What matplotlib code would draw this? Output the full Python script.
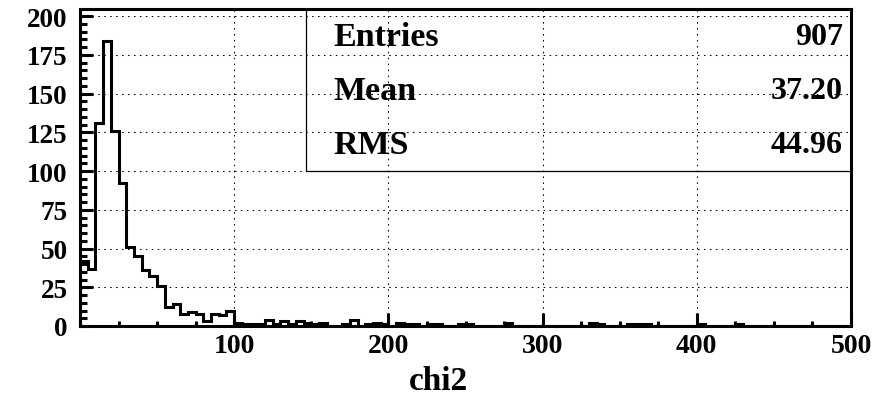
import numpy as np
import matplotlib.pyplot as plt
from matplotlib.ticker import MultipleLocator, FixedLocator

# chi2 distribution, 100 bins of width 5 from 0 to 500
bin_edges = np.arange(0, 505, 5)
counts = [
    42, 37, 131, 184, 126, 92, 51, 45, 36, 32,
    26, 12, 14, 8, 9, 8, 3, 8, 7, 10,
    2, 1, 1, 1, 4, 1, 3, 1, 3, 2,
    1, 2, 0, 0, 1, 4, 0, 1, 2, 1,
    0, 2, 1, 1, 0, 1, 1, 0, 0, 1,
    1, 0, 0, 0, 0, 2, 0, 0, 0, 0,
    0, 0, 0, 0, 0, 0, 2, 1, 0, 0,
    0, 1, 1, 1, 0, 0, 0, 0, 0, 0,
    1, 0, 0, 0, 0, 1, 0, 0, 0, 0,
    0, 0, 0, 0, 0, 0, 0, 0, 0, 0,
]
x_ticks = [100, 200, 300, 400, 500]
y_ticks = [0, 25, 50, 75, 100, 125, 150, 175, 200]
stat_names = ["Entries", "Mean", "RMS"]
stat_values = ["907", "37.20", "44.96"]

font = {"family": "Liberation Serif", "weight": "bold"}
W, H = 888, 410
fig = plt.figure(figsize=(W / 100, H / 100), dpi=100)
ax = fig.add_axes([80 / W, 1 - 327 / H, (851 - 80) / W, (327 - 10) / H])

ax.stairs(counts, bin_edges, color="black", linewidth=2.2, baseline=0, zorder=3)

ax.set_xlim(0, 500)
ax.set_ylim(0, 204.6)

ax.xaxis.set_major_locator(FixedLocator(x_ticks))
ax.xaxis.set_minor_locator(MultipleLocator(25))
ax.yaxis.set_major_locator(FixedLocator(y_ticks))
ax.yaxis.set_minor_locator(MultipleLocator(5))
ax.set_xticklabels([str(t) for t in x_ticks], fontdict=font, fontsize=20)
ax.set_yticklabels([str(t) for t in y_ticks], fontdict=font, fontsize=19.5)

ax.tick_params(which="both", direction="in", top=False, right=False, width=2.2, color="black")
ax.tick_params(axis="y", which="major", length=9.5, pad=9)
ax.tick_params(axis="y", which="minor", length=5)
ax.tick_params(axis="x", which="major", length=9.5, pad=5)
ax.tick_params(axis="x", which="minor", length=3.5)

for spine in ax.spines.values():
    spine.set_linewidth(2.2)

ax.grid(True, which="major", color="black", linewidth=0.75, linestyle=(0, (1.5, 4.2)))
ax.set_axisbelow(True)

ax.set_xlabel("chi2", fontdict=font, fontsize=24)
ax.xaxis.set_label_coords((438 - 80) / 771, (327 - 381) / 317)
ax.xaxis.label.set_verticalalignment("center")

# stats box in the upper right corner, transparent so the grid shows through
box_left = (306 - 80) / 771
box_bottom = 100 / 204.6
ax.plot([box_left, box_left, 1], [1, box_bottom, box_bottom], color="black",
        linewidth=0.9, transform=ax.transAxes, zorder=4, clip_on=False)
row_h = (1 - box_bottom) / 3
for i, (name, val) in enumerate(zip(stat_names, stat_values)):
    yc = 1 - row_h * (i + 0.5)
    ax.text((333 - 80) / 771, yc, name, transform=ax.transAxes, fontdict=font,
            fontsize=24.5, ha="left", va="center", zorder=5)
    ax.text((843 - 80) / 771, yc, val, transform=ax.transAxes, fontdict=font,
            fontsize=23, ha="right", va="center", zorder=5)

fig.savefig("out.png", dpi=100)
